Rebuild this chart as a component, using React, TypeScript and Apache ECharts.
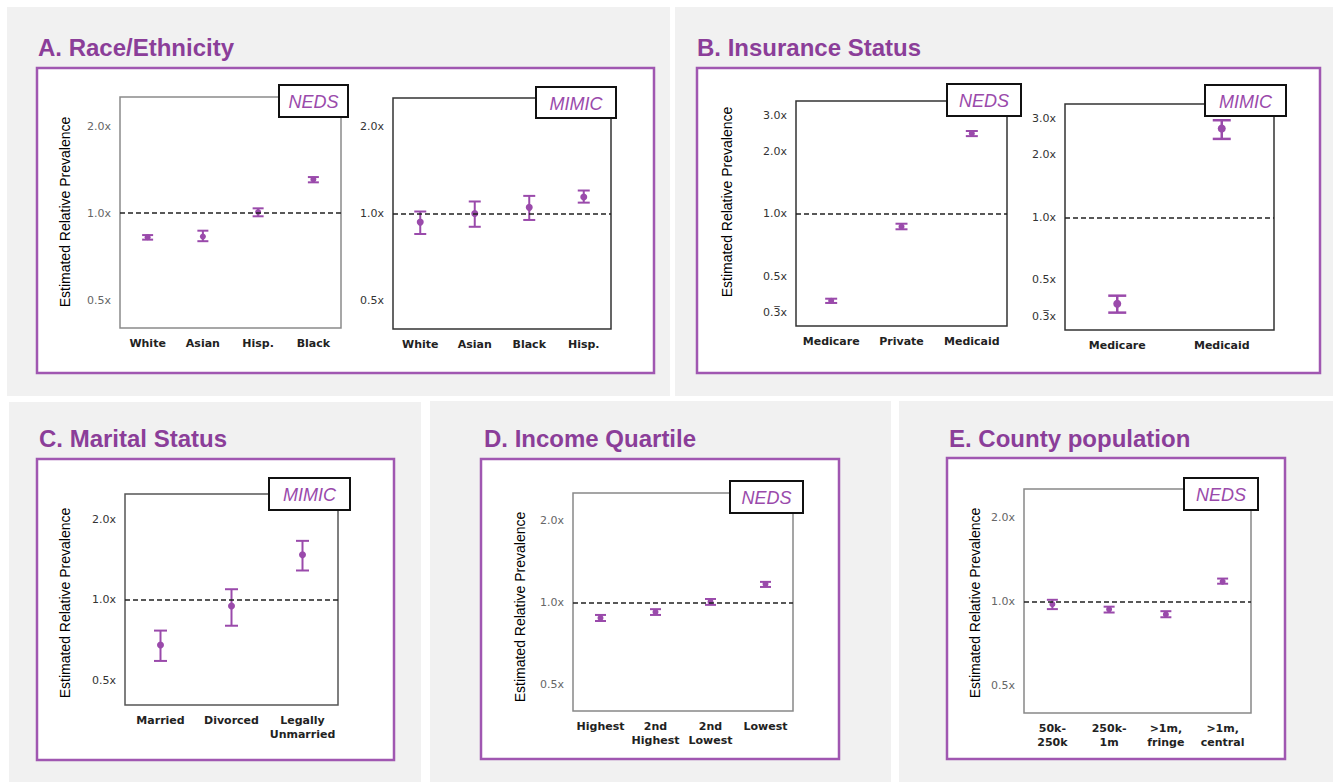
import React, { useEffect, useRef } from "react";
import * as echarts from "echarts";

// ---------- DATA ----------
const raceNedsCats = ["White", "Asian", "Hisp.", "Black"];
const raceNedsEst = [0.826, 0.83, 1.01, 1.31];
const raceNedsLo = [0.81, 0.8, 0.976, 1.28];
const raceNedsHi = [0.84, 0.87, 1.04, 1.335];

const raceMimicCats = ["White", "Asian", "Black", "Hisp."];
const raceMimicEst = [0.934, 1.0, 1.05, 1.14];
const raceMimicLo = [0.85, 0.9, 0.95, 1.09];
const raceMimicHi = [1.016, 1.1, 1.15, 1.2];

const insNedsCats = ["Medicare", "Private", "Medicaid"];
const insNedsEst = [0.38, 0.868, 2.45];
const insNedsLo = [0.371, 0.843, 2.38];
const insNedsHi = [0.389, 0.897, 2.52];

const insMimicCats = ["Medicare", "Medicaid"];
const insMimicEst = [0.384, 2.68];
const insMimicLo = [0.348, 2.39];
const insMimicHi = [0.42, 2.94];

const maritalCats = ["Married", "Divorced", "Legally\nUnmarried"];
const maritalEst = [0.677, 0.949, 1.477];
const maritalLo = [0.59, 0.8, 1.29];
const maritalHi = [0.767, 1.097, 1.667];

const incomeCats = ["Highest", "2nd\nHighest", "2nd\nLowest", "Lowest"];
const incomeEst = [0.877, 0.922, 1.006, 1.168];
const incomeLo = [0.855, 0.9, 0.98, 1.14];
const incomeHi = [0.9, 0.945, 1.03, 1.19];

const countyCats = ["50k-\n250k", "250k-\n1m", ">1m,\nfringe", ">1m,\ncentral"];
const countyEst = [0.98, 0.939, 0.901, 1.18];
const countyLo = [0.941, 0.915, 0.88, 1.16];
const countyHi = [1.016, 0.96, 0.925, 1.21];

const base2Ticks = [0.5, 1, 2];
const base2Labels = ["0.5x", "1.0x", "2.0x"];
const base3Ticks = [1 / 3, 3];
const base3Labels = ["0.3\u0305x", "3.0x"];

const refLineValue = 1;

// ---------- STYLE ----------
const PURPLE = "#9a4aab";
const TITLE_PURPLE = "#8b3e99";
const BOX_PURPLE = "#a057b1";
const TEXT_FONT = '"Liberation Sans", Arial, sans-serif';

type Cfg = {
  cats: string[];
  est: number[];
  lo: number[];
  hi: number[];
  left: number;
  top: number;
  width: number;
  height: number;
  min: number;
  max: number;
  base3?: boolean;
  frame: string;
  tick: string;
  cap: number;
  lw: number;
  sym: number;
};

const charts: Cfg[] = [
  { cats: raceNedsCats, est: raceNedsEst, lo: raceNedsLo, hi: raceNedsHi, left: 120, top: 97, width: 221, height: 231, min: 0.4, max: 2.53, frame: "#8a8a8a", tick: "#666", cap: 11, lw: 2, sym: 6 },
  { cats: raceMimicCats, est: raceMimicEst, lo: raceMimicLo, hi: raceMimicHi, left: 393, top: 98, width: 218, height: 231, min: 0.4, max: 2.5, frame: "#333", tick: "#333", cap: 12, lw: 2, sym: 7 },
  { cats: insNedsCats, est: insNedsEst, lo: insNedsLo, hi: insNedsHi, left: 796, top: 101, width: 211, height: 225, min: 0.287, max: 3.52, base3: true, frame: "#333", tick: "#333", cap: 12, lw: 2, sym: 6 },
  { cats: insMimicCats, est: insMimicEst, lo: insMimicLo, hi: insMimicHi, left: 1065, top: 104, width: 209, height: 226, min: 0.287, max: 3.52, base3: true, frame: "#333", tick: "#333", cap: 18, lw: 2.5, sym: 8 },
  { cats: maritalCats, est: maritalEst, lo: maritalLo, hi: maritalHi, left: 125, top: 494, width: 213, height: 211, min: 0.403, max: 2.5, frame: "#555", tick: "#333", cap: 13, lw: 2, sym: 7 },
  { cats: incomeCats, est: incomeEst, lo: incomeLo, hi: incomeHi, left: 573, top: 493, width: 220, height: 218, min: 0.4, max: 2.52, frame: "#888", tick: "#666", cap: 11, lw: 2, sym: 6 },
  { cats: countyCats, est: countyEst, lo: countyLo, hi: countyHi, left: 1024, top: 489, width: 227, height: 224, min: 0.4, max: 2.53, frame: "#888", tick: "#666", cap: 11, lw: 2, sym: 6 },
];

const panels = [
  { x: 7, y: 7, w: 663, h: 389 },
  { x: 675, y: 7, w: 658, h: 389 },
  { x: 9, y: 402, w: 412, h: 380 },
  { x: 430, y: 401, w: 461, h: 381 },
  { x: 899, y: 401, w: 434, h: 381 },
];

const boxes = [
  { x: 37, y: 68, w: 617, h: 305 },
  { x: 697, y: 68, w: 623, h: 305 },
  { x: 37, y: 459, w: 357, h: 301 },
  { x: 481, y: 459, w: 358, h: 300 },
  { x: 947, y: 458, w: 338, h: 301 },
];

const titles = [
  { text: "A. Race/Ethnicity", x: 38, y: 47 },
  { text: "B. Insurance Status", x: 697, y: 47 },
  { text: "C. Marital Status", x: 39, y: 438 },
  { text: "D. Income Quartile", x: 484, y: 438 },
  { text: "E. County population", x: 949, y: 438 },
];

const yTitles = [
  { x: 65, y: 212 },
  { x: 727, y: 202 },
  { x: 65, y: 603 },
  { x: 520, y: 607 },
  { x: 975, y: 603 },
];

const tags = [
  { text: "NEDS", x: 279, y: 85, w: 69, h: 32 },
  { text: "MIMIC", x: 536, y: 87, w: 80, h: 31 },
  { text: "NEDS", x: 947, y: 84, w: 74, h: 32 },
  { text: "MIMIC", x: 1205, y: 85, w: 81, h: 31 },
  { text: "MIMIC", x: 269, y: 478, w: 81, h: 32 },
  { text: "NEDS", x: 730, y: 481, w: 73, h: 32 },
  { text: "NEDS", x: 1184, y: 478, w: 74, h: 32 },
];

function fmt(ticks: number[], labels: string[]) {
  return (v: number) => {
    for (let i = 0; i < ticks.length; i++) {
      if (Math.abs(v - ticks[i]) < 1e-6) return labels[i];
    }
    return "";
  };
}

export default function App() {
  const ref = useRef<HTMLDivElement>(null);
  useEffect(() => {
    const chart = echarts.init(ref.current!, null, { renderer: "svg" });
    const grid: any[] = [];
    const xAxis: any[] = [];
    const yAxis: any[] = [];
    const series: any[] = [];

    charts.forEach((c, i) => {
      grid.push({
        left: c.left,
        top: c.top,
        width: c.width,
        height: c.height,
        show: true,
        borderColor: c.frame,
        borderWidth: 1.5,
        backgroundColor: "transparent",
      });
      xAxis.push({
        type: "category",
        gridIndex: i,
        data: c.cats,
        boundaryGap: true,
        axisLine: { show: false },
        axisTick: { show: false },
        splitLine: { show: false },
        axisLabel: {
          interval: 0,
          margin: 8,
          fontFamily: "DejaVu Sans",
          fontWeight: "bold",
          fontSize: 11,
          lineHeight: 14,
          color: "#222",
        },
      });
      const yCommon = {
        type: "log",
        gridIndex: i,
        min: c.min,
        max: c.max,
        axisLine: { show: false },
        axisTick: { show: false },
        splitLine: { show: false },
      };
      const yIdx = yAxis.length;
      yAxis.push({
        ...yCommon,
        logBase: 2,
        axisLabel: {
          formatter: fmt(base2Ticks, base2Labels),
          margin: 9,
          fontFamily: "DejaVu Sans",
          fontSize: 11,
          color: c.tick,
        },
      });
      if (c.base3) {
        yAxis.push({
          ...yCommon,
          logBase: 3,
          position: "left",
          axisLabel: {
            formatter: fmt(base3Ticks, base3Labels),
            margin: 9,
            fontFamily: "DejaVu Sans",
            fontSize: 11,
            color: c.tick,
          },
        });
      }
      const cap = c.cap / 2;
      series.push({
        type: "custom",
        xAxisIndex: i,
        yAxisIndex: yIdx,
        data: c.lo.map((v, k) => [k, v, c.hi[k]]),
        encode: { x: 0, y: [1, 2] },
        z: 3,
        renderItem: (params: any, api: any) => {
          const x = api.value(0);
          const a = api.coord([x, api.value(1)]);
          const b = api.coord([x, api.value(2)]);
          const st = { stroke: PURPLE, lineWidth: c.lw };
          return {
            type: "group",
            children: [
              { type: "line", shape: { x1: a[0], y1: a[1], x2: b[0], y2: b[1] }, style: st },
              { type: "line", shape: { x1: a[0] - cap, y1: a[1], x2: a[0] + cap, y2: a[1] }, style: st },
              { type: "line", shape: { x1: b[0] - cap, y1: b[1], x2: b[0] + cap, y2: b[1] }, style: st },
            ],
          };
        },
      });
      series.push({
        type: "scatter",
        xAxisIndex: i,
        yAxisIndex: yIdx,
        data: c.est.map((v, k) => [k, v]),
        symbolSize: c.sym,
        itemStyle: { color: PURPLE, opacity: 1 },
        z: 4,
        markLine: {
          silent: true,
          symbol: "none",
          label: { show: false },
          lineStyle: { type: [5, 3], color: "#222", width: 1.5 },
          data: [{ yAxis: refLineValue }],
        },
      });
    });

    const graphic: any[] = [];
    panels.forEach((p) =>
      graphic.push({ type: "rect", z: -20, shape: { x: p.x, y: p.y, width: p.w, height: p.h }, style: { fill: "#f1f1f1" } })
    );
    boxes.forEach((b) =>
      graphic.push({
        type: "rect",
        z: -10,
        shape: { x: b.x, y: b.y, width: b.w, height: b.h },
        style: { fill: "#ffffff", stroke: BOX_PURPLE, lineWidth: 2.5 },
      })
    );
    titles.forEach((t) =>
      graphic.push({
        type: "text",
        z: 10,
        x: t.x,
        y: t.y,
        style: {
          text: t.text,
          fill: TITLE_PURPLE,
          fontSize: 24,
          fontWeight: "bold",
          fontFamily: TEXT_FONT,
          align: "left",
          verticalAlign: "middle",
        },
      })
    );
    yTitles.forEach((t) =>
      graphic.push({
        type: "text",
        z: 10,
        x: t.x,
        y: t.y,
        rotation: Math.PI / 2,
        style: {
          text: "Estimated Relative Prevalence",
          fill: "#000",
          fontSize: 14,
          fontFamily: TEXT_FONT,
          align: "center",
          verticalAlign: "middle",
        },
      })
    );
    tags.forEach((t) => {
      graphic.push({
        type: "rect",
        z: 20,
        shape: { x: t.x, y: t.y, width: t.w, height: t.h },
        style: { fill: "#fff", stroke: "#111", lineWidth: 2 },
      });
      graphic.push({
        type: "text",
        z: 21,
        x: t.x + t.w / 2,
        y: t.y + t.h / 2 + 1,
        style: {
          text: t.text,
          fill: PURPLE,
          fontSize: 18,
          fontStyle: "italic",
          fontFamily: TEXT_FONT,
          align: "center",
          verticalAlign: "middle",
        },
      });
    });

    chart.setOption({
      animation: false,
      backgroundColor: "#ffffff",
      grid,
      xAxis,
      yAxis,
      series,
      graphic,
    });
    return () => chart.dispose();
  }, []);
  return (
    <div
      ref={ref}
      style={{ position: "fixed", left: 0, top: 0, width: 1333, height: 782 }}
    />
  );
}
